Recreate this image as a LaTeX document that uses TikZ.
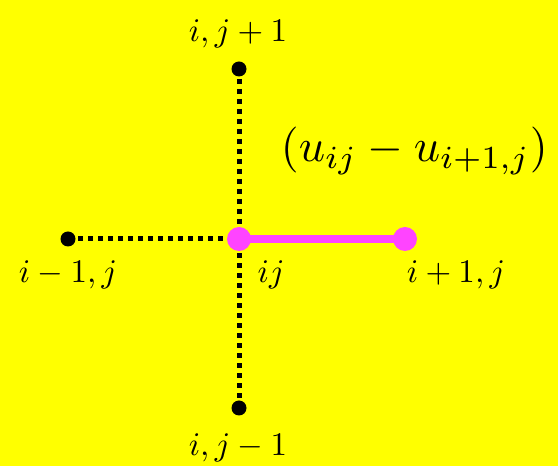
\documentclass[tikz,border=0pt]{standalone}
\usepackage{amsmath}
\definecolor{bgyellow}{RGB}{255,255,0}
\definecolor{pinkish}{RGB}{255,68,255}
\begin{document}
\begin{tikzpicture}[x=1pt,y=1pt,
  blackdot/.style={circle,fill=black,inner sep=0pt,minimum size=15pt},
  pinkdot/.style={circle,fill=pinkish,inner sep=0pt,minimum size=24pt},
  dotline/.style={line width=5pt,dash pattern=on 5pt off 5pt,black},
  pinkline/.style={line width=8pt,pinkish},
  lbl/.style={anchor=base,inner sep=0pt,scale=3.3},
  biglbl/.style={anchor=base west,inner sep=0pt,scale=4.6}]
\fill[bgyellow] (0,0) rectangle (558,466);
\useasboundingbox (0,0) rectangle (558,466);
\coordinate (C) at (239,227);
\coordinate (T) at (239,397);
\coordinate (B) at (239,58);
\coordinate (L) at (68,227);
\coordinate (R) at (405,227);
\draw[dotline] (T) -- (C);
\draw[dotline] (B) -- (C);
\draw[dotline] (L) -- (C);
\draw[pinkline] (C) -- (R);
\node[blackdot] (t) at (T) {};
\node[blackdot] (b) at (B) {};
\node[blackdot] (l) at (L) {};
\node[pinkdot] (c) at (C) {};
\node[pinkdot] (r) at (R) {};
\node[lbl] (tl) at (238,424) {$i,j+1$};
\node[lbl] (bl) at (238,10) {$i,j-1$};
\node[lbl] (ll) at (68,183) {$i-1,j$};
\node[lbl,anchor=base west] (cl) at (257,183) {$ij$};
\node[lbl] (rl) at (456,183) {$i+1,j$};
\node[biglbl] (diff) at (280,304) {$(u_{ij}-u_{i+1,j})$};
\end{tikzpicture}
\end{document}
